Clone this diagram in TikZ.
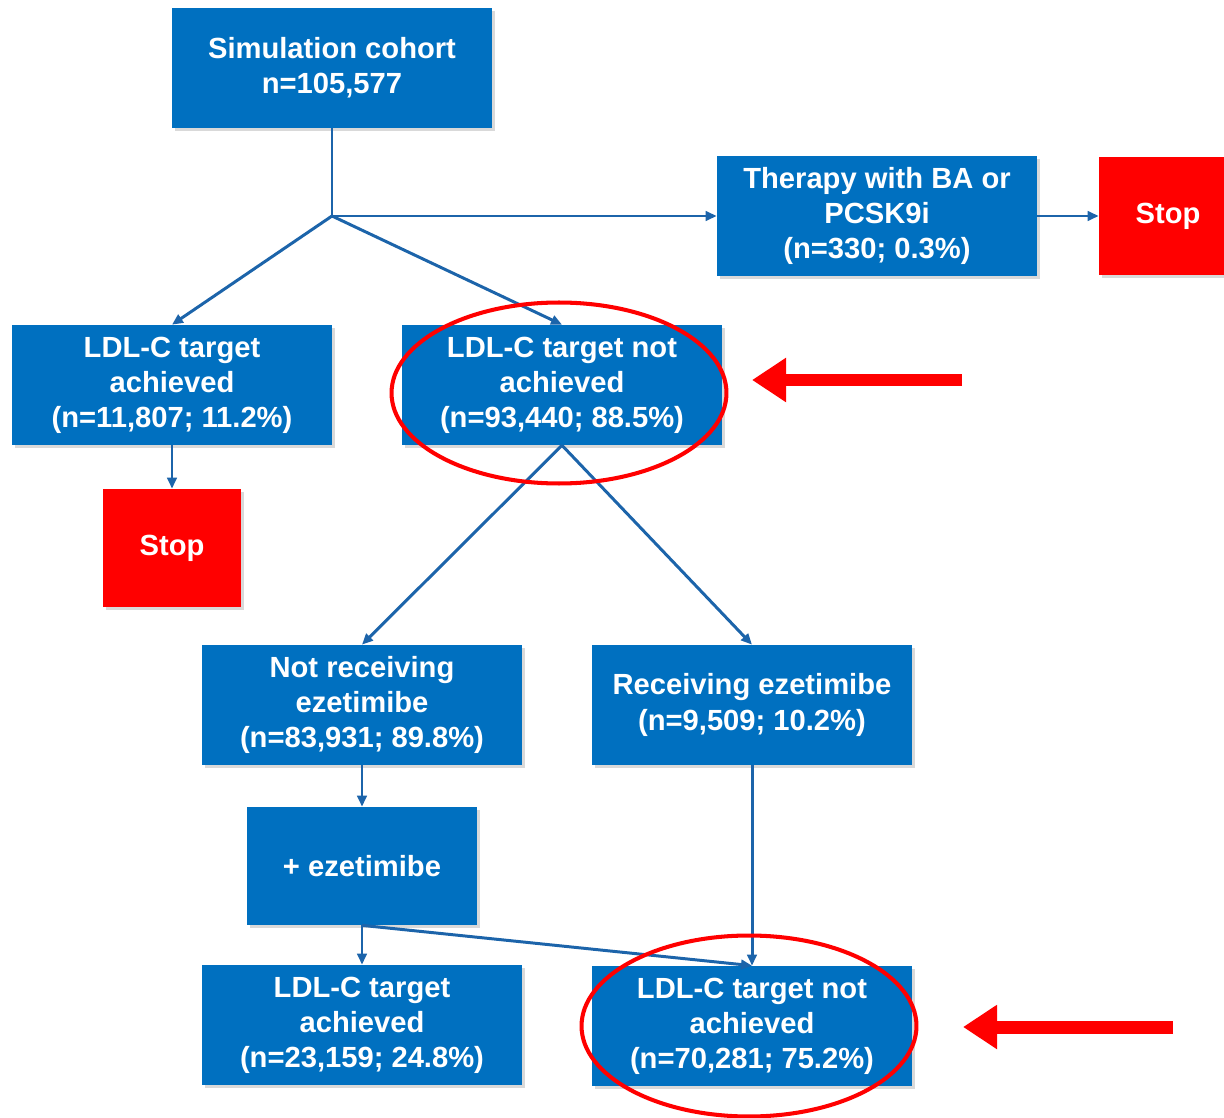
\documentclass[tikz,border=0pt]{standalone}
\usepackage{fontspec}
\setmainfont{Liberation Sans}
\usepackage{xcolor}
\definecolor{flowblue}{RGB}{0,112,192}
\definecolor{edgeblue}{RGB}{28,100,170}
\definecolor{stopred}{RGB}{255,0,0}
\usepackage{tikz}
\usetikzlibrary{arrows.meta,positioning,shapes.geometric,shadows}
\tikzset{
  flow box/.style={rectangle, fill=flowblue, text=white, align=center, inner sep=2pt,
    font=\bfseries\fontsize{16.6}{20}\selectfont, minimum width=6.4cm, minimum height=2.4cm,
    drop shadow={opacity=0.3, shadow xshift=1.5pt, shadow yshift=-1.5pt}},
  stop box/.style={flow box, fill=stopred, minimum width=2.76cm, minimum height=2.36cm},
  flow edge/.style={-{Triangle[length=2.2mm, width=1.9mm]}, edgeblue, line width=1.7pt},
  flow line/.style={edgeblue, line width=1.7pt},
  mark ring/.style={draw=stopred, ellipse, line width=2.3pt, minimum width=6.7cm, minimum height=3.62cm},
  mark arrow/.style={-{Triangle[length=6.8mm, width=8.4mm]}, stopred, line width=2.6mm},
}
\begin{document}
\begin{tikzpicture}[x=0.02cm, y=-0.02cm]
  \useasboundingbox (0,0) rectangle (1224,1118);
  % boxes
  \node[flow box] (cohort) at (332,68) {Simulation cohort\\n=105,577};
  \node[flow box] (therapy) at (877,216) {Therapy with BA or\\PCSK9i\\(n=330; 0.3\%)};
  \node[stop box] (stopa) at (1168,216) {Stop};
  \node[flow box] (achA) at (172,385) {LDL-C target\\achieved\\(n=11,807; 11.2\%)};
  \node[flow box] (notachA) at (562,385) {LDL-C target not\\achieved\\(n=93,440; 88.5\%)};
  \node[stop box] (stopb) at (172,548) {Stop};
  \node[flow box] (norecv) at (362,705) {Not receiving\\ezetimibe\\(n=83,931; 89.8\%)};
  \node[flow box] (recv) at (752,705) {Receiving ezetimibe\\(n=9,509; 10.2\%)};
  \node[flow box, minimum width=4.6cm, minimum height=2.36cm] (addeze) at (362,866) {+ ezetimibe};
  \node[flow box] (achB) at (362,1025) {LDL-C target\\achieved\\(n=23,159; 24.8\%)};
  \node[flow box] (notachB) at (752,1026) {LDL-C target not\\achieved\\(n=70,281; 75.2\%)};
  \coordinate (split) at (332,216);

  % connectors
  \draw[flow line] (cohort.south) -- (split);
  \draw[flow edge] (split) -- (therapy.west);
  \draw[flow edge] (split) -- (achA.north);
  \draw[flow edge] (split) -- (notachA.north);
  \draw[flow edge] (therapy.east) -- (stopa.west);
  \draw[flow edge] (achA.south) -- (stopb.north);
  \draw[flow edge] (notachA.south) -- (norecv.north);
  \draw[flow edge] (notachA.south) -- (recv.north);
  \draw[flow edge] (norecv.south) -- (addeze.north);
  \draw[flow edge] (addeze.south) -- (achB.north);
  \draw[flow edge] (addeze.south) -- (notachB.north);
  \draw[flow edge] (recv.south) -- (notachB.north);

  % highlights
  \node[mark ring] (ringA) at (559,393) {};
  \node[mark ring] (ringB) at (749,1026) {};
  \coordinate (tailA) at (962,380);
  \coordinate (tipA) at (752,380);
  \coordinate (tailB) at (1173,1027);
  \coordinate (tipB) at (963,1027);
  \draw[mark arrow] (tailA) -- (tipA);
  \draw[mark arrow] (tailB) -- (tipB);
\end{tikzpicture}
\end{document}
